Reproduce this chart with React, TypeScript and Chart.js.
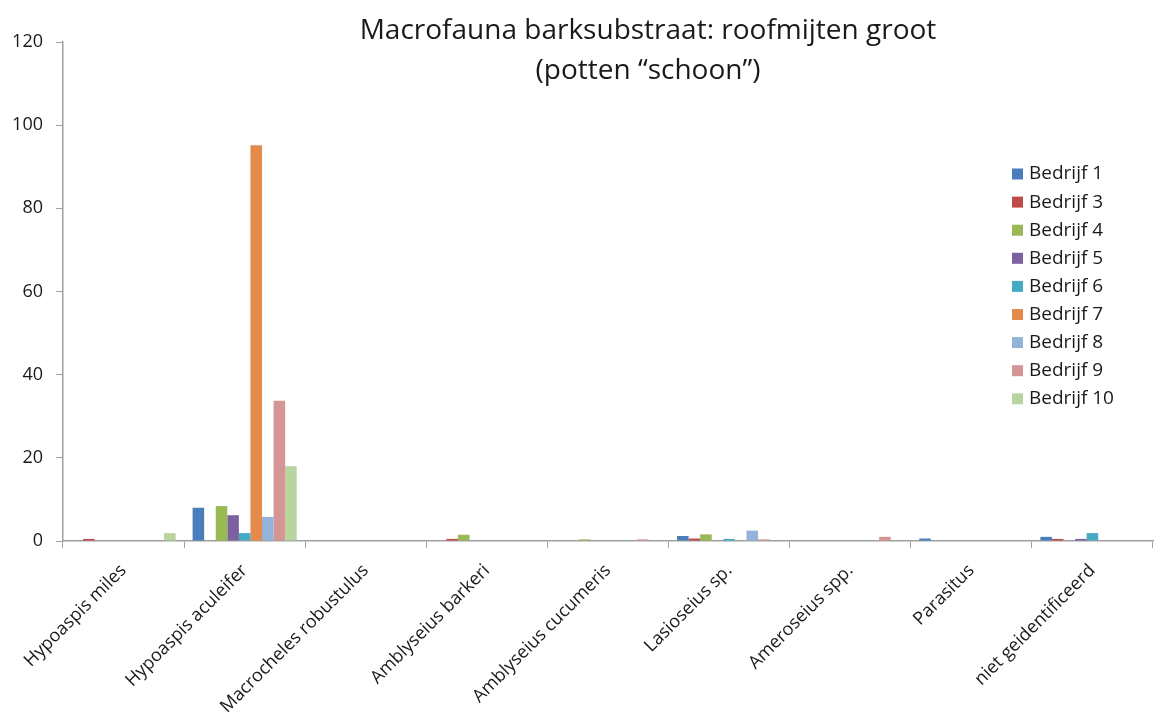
import React, { useEffect, useRef } from "react";
import { Chart, registerables } from "chart.js";

Chart.register(...registerables);

const categories = [
  "Hypoaspis miles",
  "Hypoaspis aculeifer",
  "Macrocheles robustulus",
  "Amblyseius barkeri",
  "Amblyseius cucumeris",
  "Lasioseius sp.",
  "Ameroseius spp.",
  "Parasitus",
  "niet geidentificeerd",
];

const seriesNames = ["Bedrijf 1", "Bedrijf 3", "Bedrijf 4", "Bedrijf 5", "Bedrijf 6", "Bedrijf 7", "Bedrijf 8", "Bedrijf 9", "Bedrijf 10"];

const bedrijf1 = [0, 8, 0, 0, 0, 1.2, 0, 0.6, 1.0];
const bedrijf3 = [0.5, 0, 0, 0.5, 0, 0.6, 0, 0, 0.5];
const bedrijf4 = [0, 8.4, 0, 1.5, 0.4, 1.6, 0, 0, 0];
const bedrijf5 = [0, 6.2, 0, 0, 0, 0, 0, 0, 0.5];
const bedrijf6 = [0, 1.9, 0, 0, 0, 0.5, 0, 0, 1.9];
const bedrijf7 = [0, 95.2, 0, 0, 0, 0, 0, 0, 0];
const bedrijf8 = [0, 5.8, 0, 0, 0, 2.5, 0, 0, 0];
const bedrijf9 = [0, 33.7, 0, 0, 0.4, 0.4, 1.0, 0, 0];
const bedrijf10 = [1.9, 18, 0, 0, 0, 0, 0, 0, 0];

const seriesValues = [bedrijf1, bedrijf3, bedrijf4, bedrijf5, bedrijf6, bedrijf7, bedrijf8, bedrijf9, bedrijf10];

const seriesColors = ["#4A7EBB", "#BE4B48", "#98B954", "#7D60A0", "#46AAC5", "#E48B4C", "#93B3DB", "#D59594", "#B9D59F"];

const titleLines = ["Macrofauna barksubstraat: roofmijten groot", "(potten \u201Cschoon\u201D)"];

const yTicks = [0, 20, 40, 60, 80, 100, 120];

const FONT = "'Open Sans', 'Noto Sans', sans-serif";

const overlayPlugin = {
  id: "overlay",
  afterDraw(chart: any) {
    const ctx = chart.ctx;
    ctx.save();
    // Title
    ctx.fillStyle = "#1a1a1a";
    ctx.font = `28px ${FONT}`;
    ctx.textAlign = "center";
    ctx.textBaseline = "middle";
    ctx.fillText(titleLines[0], 648, 31);
    ctx.fillText(titleLines[1], 648, 71);
    // Legend
    ctx.font = `19px ${FONT}`;
    ctx.textAlign = "left";
    chart.data.datasets.forEach((ds: any, i: number) => {
      const y = 174 + i * 28.1;
      ctx.fillStyle = ds.backgroundColor;
      ctx.fillRect(1012, y - 5.5, 11, 11);
      ctx.fillStyle = "#1a1a1a";
      ctx.fillText(ds.label, 1029, y);
    });
    ctx.restore();
  },
};

export default function App() {
  const ref = useRef<HTMLCanvasElement | null>(null);
  useEffect(() => {
    document.body.style.margin = "0";
    const canvas = ref.current;
    if (!canvas) return;
    const chart = new Chart(canvas, {
      type: "bar",
      data: {
        labels: categories,
        datasets: seriesNames.map((name, i) => ({
          label: name,
          data: seriesValues[i],
          backgroundColor: seriesColors[i],
          borderWidth: 0,
          categoryPercentage: 0.86,
          barPercentage: 1.0,
        })),
      },
      options: {
        animation: false,
        responsive: false,
        maintainAspectRatio: false,
        layout: { padding: { left: 0, right: 1, top: 42, bottom: 0 } },
        plugins: {
          legend: { display: false },
          title: { display: false },
          tooltip: { enabled: false },
        },
        scales: {
          x: {
            offset: true,
            grid: {
              display: true,
              offset: true,
              drawOnChartArea: false,
              drawTicks: true,
              tickLength: 7,
              color: "#a0a0a0",
            },
            border: { display: true, color: "#a0a0a0", width: 1.5 },
            ticks: {
              autoSkip: false,
              maxRotation: 45,
              minRotation: 45,
              color: "#1a1a1a",
              font: { family: FONT, size: 18 },
              padding: 12,
            },
            afterFit(scale: any) {
              scale.height = 724 - 541;
            },
          },
          y: {
            min: 0,
            max: 120,
            afterBuildTicks(scale: any) {
              scale.ticks = yTicks.map((v) => ({ value: v }));
            },
            grid: {
              display: true,
              drawOnChartArea: false,
              drawTicks: true,
              tickLength: 7,
              color: "#a0a0a0",
            },
            border: { display: true, color: "#a0a0a0", width: 1.5 },
            ticks: {
              color: "#1a1a1a",
              font: { family: FONT, size: 18 },
              padding: 13,
            },
            afterFit(scale: any) {
              scale.width = 63;
            },
          },
        },
      },
      plugins: [overlayPlugin],
    });
    return () => chart.destroy();
  }, []);
  return (
    <div style={{ width: 1154, height: 724 }}>
      <canvas ref={ref} width={1154} height={724} style={{ display: "block", width: 1154, height: 724 }} />
    </div>
  );
}
